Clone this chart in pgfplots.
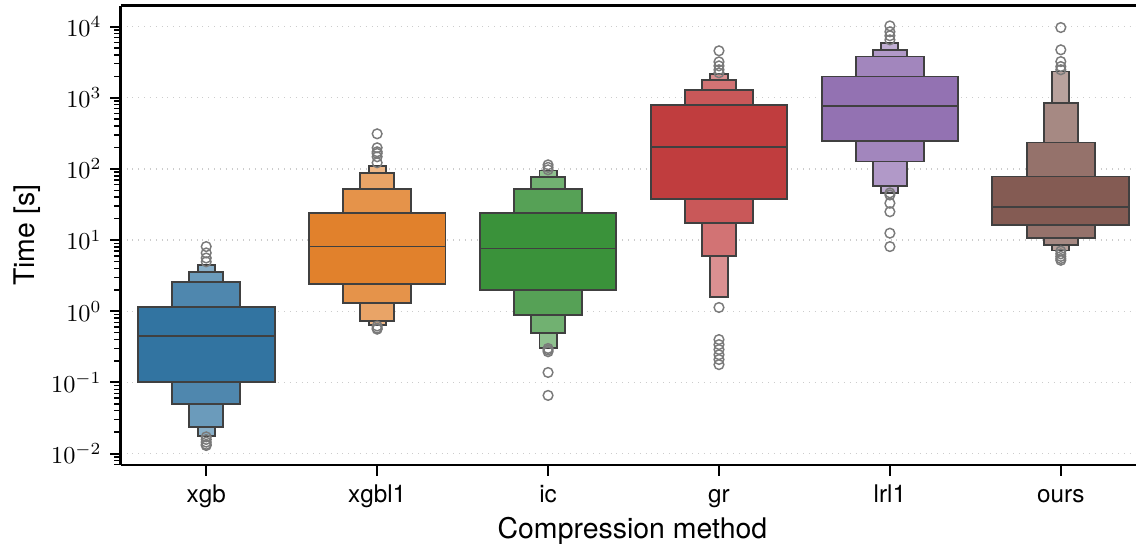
\documentclass[border=0pt]{standalone}
\usepackage{fontspec}
\setmainfont{TeX Gyre Heros}
\usepackage{pgfplots}
\pgfplotsset{compat=1.18}

\definecolor{cblue}{HTML}{3274A1}
\definecolor{corange}{HTML}{E1812C}
\definecolor{cgreen}{HTML}{3A923A}
\definecolor{cred}{HTML}{C03D3E}
\definecolor{cpurple}{HTML}{9372B2}
\definecolor{cbrown}{HTML}{845B53}
\definecolor{edge}{HTML}{404040}
\definecolor{flier}{HTML}{7A7A7A}

\pgfplotsset{
  lv1/.style={draw=edge, line width=0.8pt, fill=#1},
  lv2/.style={draw=edge, line width=0.8pt, fill=#1!86!white},
  lv3/.style={draw=edge, line width=0.8pt, fill=#1!72!white},
  lv4/.style={draw=edge, line width=0.8pt, fill=#1!57!white},
  med/.style={draw=edge, line width=0.8pt},
  fl/.style={only marks, mark=o, mark size=2pt, color=flier, mark options={line width=0.6pt}},
}

\begin{document}
\begin{tikzpicture}
\begin{axis}[
  scale only axis, width=417.8pt, height=189.1pt,
  xmin=-0.5, xmax=5.44, ymin=0.0069, ymax=19700,
  ymode=log,
  xtick={0,1,2,3,4,5}, xticklabels={xgb,xgbl1,ic,gr,lrl1,ours},
  ytick={1e-2,1e-1,1,10,100,1000,10000},
  minor ytick={0.007,0.008,0.009,0.02,0.03,0.04,0.05,0.06,0.07,0.08,0.09,
    0.2,0.3,0.4,0.5,0.6,0.7,0.8,0.9,2,3,4,5,6,7,8,9,20,30,40,50,60,70,80,90,
    200,300,400,500,600,700,800,900,2000,3000,4000,5000,6000,7000,8000,9000},
  separate axis lines,
  axis x line*=box, axis y line*=left,
  axis line style={line width=1.1pt, black, -},
  tick pos=left, tick align=outside,
  major tick length=4.4pt, minor tick length=2.7pt,
  every tick/.style={black, line width=0.8pt},
  minor tick style={line width=0.6pt},
  ymajorgrids, major grid style={gray!40, dotted, line width=0.6pt},
  tick label style={font=\fontsize{10}{12}\selectfont},
  xticklabel style={text height=7.3pt, text depth=2.2pt},
  xlabel={Compression method}, ylabel={Time [s]},
  every axis x label/.style={at={(axis description cs:0.504,-0.1597)}, anchor=base,
    font=\fontsize{11.7}{14}\selectfont},
  every axis y label/.style={at={(axis description cs:-0.0845,0.5)}, rotate=90, anchor=base,
    font=\fontsize{11.7}{14}\selectfont},
]
% xgb
\addplot[lv4=cblue] coordinates {(-0.05,0.0177) (0.05,0.0177) (0.05,4.5) (-0.05,4.5)} -- cycle;
\addplot[lv3=cblue] coordinates {(-0.1,0.0233) (0.1,0.0233) (0.1,3.59) (-0.1,3.59)} -- cycle;
\addplot[lv2=cblue] coordinates {(-0.2,0.0502) (0.2,0.0502) (0.2,2.6) (-0.2,2.6)} -- cycle;
\addplot[lv1=cblue] coordinates {(-0.4,0.1) (0.4,0.1) (0.4,1.16) (-0.4,1.16)} -- cycle;
\addplot[med] coordinates {(-0.4,0.449) (0.4,0.449)};
% xgbl1
\addplot[lv4=corange] coordinates {(0.95,0.645) (1.05,0.645) (1.05,110) (0.95,110)} -- cycle;
\addplot[lv3=corange] coordinates {(0.9,0.736) (1.1,0.736) (1.1,87.3) (0.9,87.3)} -- cycle;
\addplot[lv2=corange] coordinates {(0.8,1.30) (1.2,1.30) (1.2,52.6) (0.8,52.6)} -- cycle;
\addplot[lv1=corange] coordinates {(0.6,2.41) (1.4,2.41) (1.4,23.9) (0.6,23.9)} -- cycle;
\addplot[med] coordinates {(0.6,8.13) (1.4,8.13)};
% ic
\addplot[lv4=cgreen] coordinates {(1.95,0.304) (2.05,0.304) (2.05,95) (1.95,95)} -- cycle;
\addplot[lv3=cgreen] coordinates {(1.9,0.499) (2.1,0.499) (2.1,76.7) (1.9,76.7)} -- cycle;
\addplot[lv2=cgreen] coordinates {(1.8,0.885) (2.2,0.885) (2.2,52) (1.8,52)} -- cycle;
\addplot[lv1=cgreen] coordinates {(1.6,1.99) (2.4,1.99) (2.4,23.9) (1.6,23.9)} -- cycle;
\addplot[med] coordinates {(1.6,7.62) (2.4,7.62)};
% gr
\addplot[lv4=cred] coordinates {(2.95,1.61) (3.05,1.61) (3.05,2167) (2.95,2167)} -- cycle;
\addplot[lv3=cred] coordinates {(2.9,5.89) (3.1,5.89) (3.1,1783) (2.9,1783)} -- cycle;
\addplot[lv2=cred] coordinates {(2.8,17.3) (3.2,17.3) (3.2,1279) (2.8,1279)} -- cycle;
\addplot[lv1=cred] coordinates {(2.6,38) (3.4,38) (3.4,802) (2.6,802)} -- cycle;
\addplot[med] coordinates {(2.6,202) (3.4,202)};
% lrl1
\addplot[lv4=cpurple] coordinates {(3.95,45.7) (4.05,45.7) (4.05,5960) (3.95,5960)} -- cycle;
\addplot[lv3=cpurple] coordinates {(3.9,57.9) (4.1,57.9) (4.1,4710) (3.9,4710)} -- cycle;
\addplot[lv2=cpurple] coordinates {(3.8,127) (4.2,127) (4.2,3790) (3.8,3790)} -- cycle;
\addplot[lv1=cpurple] coordinates {(3.6,250) (4.4,250) (4.4,1985) (3.6,1985)} -- cycle;
\addplot[med] coordinates {(3.6,769) (4.4,769)};
% ours
\addplot[lv4=cbrown] coordinates {(4.95,7.14) (5.05,7.14) (5.05,2333) (4.95,2333)} -- cycle;
\addplot[lv3=cbrown] coordinates {(4.9,8.4) (5.1,8.4) (5.1,840) (4.9,840)} -- cycle;
\addplot[lv2=cbrown] coordinates {(4.8,10.7) (5.2,10.7) (5.2,235) (4.8,235)} -- cycle;
\addplot[lv1=cbrown] coordinates {(4.6,16.4) (5.4,16.4) (5.4,78.2) (4.6,78.2)} -- cycle;
\addplot[med] coordinates {(4.6,29.6) (5.4,29.6)};
% outliers
\addplot[fl] coordinates {(0,4.95) (0,5.6) (0,6.6) (0,8.1) (0,0.0172) (0,0.0158) (0,0.0145) (0,0.0135) (0,0.013)};
\addplot[fl] coordinates {(1,122) (1,148) (1,165) (1,174) (1,198) (1,311) (1,0.62) (1,0.58) (1,0.56)};
\addplot[fl] coordinates {(2,97) (2,105) (2,114) (2,0.3) (2,0.285) (2,0.27) (2,0.138) (2,0.0657)};
\addplot[fl] coordinates {(3,2240) (3,2470) (3,2800) (3,3190) (3,4560) (3,1.13) (3,0.4) (3,0.34) (3,0.29) (3,0.245) (3,0.21) (3,0.178)};
\addplot[fl] coordinates {(4,6500) (4,7420) (4,8440) (4,10200) (4,46) (4,43) (4,33) (4,25) (4,12.5) (4,8.1)};
\addplot[fl] coordinates {(5,2470) (5,2740) (5,3220) (5,4710) (5,9680) (5,7.0) (5,6.4) (5,5.9) (5,5.5) (5,5.2)};
\end{axis}
\pgfresetboundingbox
\path[use as bounding box] ([xshift=-49.7pt,yshift=-32.4pt]current axis.south west) rectangle ([yshift=2.3pt]current axis.north east);
\end{tikzpicture}
\end{document}
